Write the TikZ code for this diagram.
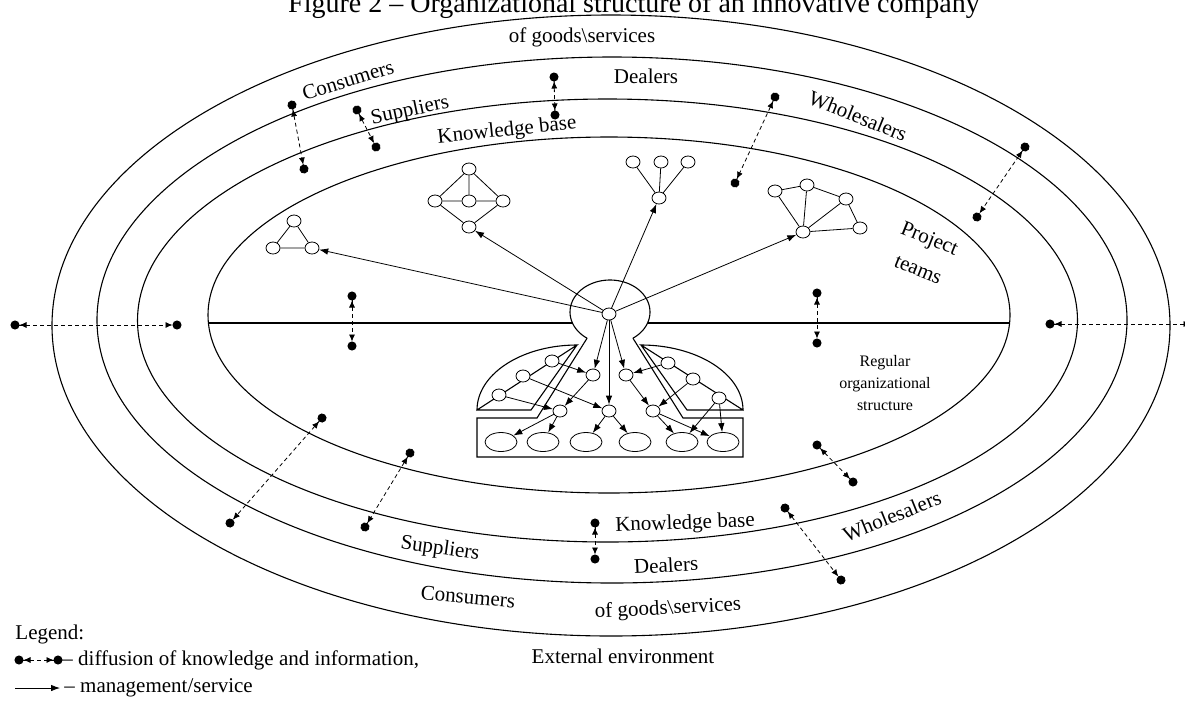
\documentclass[tikz,border=0pt]{standalone}
\usepackage{fontspec}
\setmainfont{Liberation Serif}
\usetikzlibrary{arrows.meta,shapes.geometric}
\begin{document}
\begin{tikzpicture}[x=1pt,y=-1pt,
  line width=0.9pt,
  ring/.style={line width=1.1pt},
  sn/.style={draw, ellipse, fill=white, minimum width=14pt, minimum height=12pt, inner sep=0pt, line width=0.8pt},
  bn/.style={draw, ellipse, fill=white, minimum width=32pt, minimum height=19pt, inner sep=0pt, line width=0.8pt},
  mg/.style={-{Latex[length=9pt,width=6.5pt]}, line width=0.8pt},
  ed/.style={line width=0.8pt},
  diff/.style={dash pattern=on 4pt off 3pt, line width=0.8pt,
    {Circle[length=9pt]Latex[length=7pt,width=6pt]}-{Latex[length=7pt,width=6pt]Circle[length=9pt]},
    shorten <=-4.5pt, shorten >=-4.5pt},
  lbl/.style={font=\fontsize{21}{23}\selectfont, inner sep=0pt},
]
\useasboundingbox (0,0) rectangle (1185,705);
\clip (0,0) rectangle (1185,705);

% title (cut at the top)
\node[font=\fontsize{28}{30}\selectfont, anchor=base, inner sep=0pt] (title) at (634,12) {Figure 2 -- Organizational structure of an innovative company};

% rings
\draw[ring] (611,325.5) ellipse [x radius=559pt, y radius=310.5pt];
\draw[ring] (612,320) ellipse [x radius=515pt, y radius=263pt];
\draw[ring] (607.5,320.5) ellipse [x radius=470pt, y radius=221.5pt];
\draw[ring] (609,315) ellipse [x radius=401pt, y radius=178pt];

% central core
\draw[ring] plot[domain=235:-55, samples=60] ({610+40*cos(\x)},{312-32*sin(\x)});
\coordinate (nl) at ({610+40*cos(235)},{312-32*sin(235)});
\coordinate (nr) at ({610+40*cos(-55)},{312-32*sin(-55)});
\draw[ring] (nl) -- (537,418) -- (477,418) -- (477,457) -- (743,457) -- (743,418) -- (683,418) -- (nr);
% caps
\draw[ring] (577,345) -- (531,410) -- (477,410) plot[domain=180:90, samples=40] ({577+100*cos(\x)},{410-65*sin(\x)}) -- cycle;
\draw[ring] (641,345) -- (687,410) -- (743,410) plot[domain=0:90, samples=40] ({641+102*cos(\x)},{410-65*sin(\x)}) -- cycle;

% horizontal divider
\coordinate (hl1) at (208.5,323);
\coordinate (hl2) at (572.5,323);
\coordinate (hr1) at (647.5,323);
\coordinate (hr2) at (1009.5,323);
\draw[ring] (hl1) -- (hl2);
\draw[ring] (hr1) -- (hr2);

% center node
\node[sn] (c0) at (609,314) {};

% project teams
\node[sn] (tA1) at (294,221) {};
\node[sn] (tA2) at (273,248) {};
\node[sn] (tA3) at (312,248) {};
\draw[ed] (tA1) -- (tA2) (tA1) -- (tA3) (tA2) -- (tA3);

\node[sn] (dT) at (469,169) {};
\node[sn] (dL) at (435,201) {};
\node[sn] (dM) at (469,201) {};
\node[sn] (dR) at (503,201) {};
\node[sn] (dB) at (469,227) {};
\draw[ed] (dT) -- (dL) (dT) -- (dM) (dT) -- (dR) (dL) -- (dM) (dM) -- (dR) (dL) -- (dB) (dR) -- (dB);

\node[sn] (f1) at (633,162) {};
\node[sn] (f2) at (661,162) {};
\node[sn] (f3) at (688,162) {};
\node[sn] (fB) at (659,198) {};
\draw[ed] (fB) -- (f1) (fB) -- (f2) (fB) -- (f3);

\node[sn] (r1) at (775,191) {};
\node[sn] (r2) at (807,185) {};
\node[sn] (r3) at (846,199) {};
\node[sn] (r4) at (803,232) {};
\node[sn] (r5) at (860,228) {};
\draw[ed] (r1) -- (r2) (r2) -- (r3) (r1) -- (r4) (r2) -- (r4) (r3) -- (r4) (r3) -- (r5) (r4) -- (r5);

\draw[mg] (c0) -- (tA3);
\draw[mg] (c0) -- (dB);
\draw[mg] (c0) -- (fB);
\draw[mg] (c0) -- (r4);

% regular structure
\node[sn] (m1) at (593,375) {};
\node[sn] (m2) at (626,375) {};
\node[sn] (m3) at (609,411) {};
\node[sn] (m4) at (560,411) {};
\node[sn] (m5) at (653,411) {};
\node[sn] (l1) at (552,361) {};
\node[sn] (l2) at (523,376) {};
\node[sn] (l3) at (499,395) {};
\node[sn] (q1) at (668,363) {};
\node[sn] (q2) at (693,379) {};
\node[sn] (q3) at (719,398) {};
\node[bn] (b1) at (501,442) {};
\node[bn] (b2) at (543,442) {};
\node[bn] (b3) at (586,442) {};
\node[bn] (b4) at (635,442) {};
\node[bn] (b5) at (682,442) {};
\node[bn] (b6) at (723,442) {};

\draw[mg] (c0) -- (m1);
\draw[mg] (c0) -- (m2);
\draw[mg] (c0) -- (m3);
\draw[mg] (l1) -- (m1);
\draw[mg] (l2) -- (m3);
\draw[mg] (l3) -- (m4);
\draw[mg] (m1) -- (m4);
\draw[mg] (m2) -- (m5);
\draw[mg] (q1) -- (m2);
\draw[mg] (q2) -- (m5);
\draw[mg] (m4) -- (b1);
\draw[mg] (m4) -- (b2);
\draw[mg] (m3) -- (b3);
\draw[mg] (m3) -- (b4);
\draw[mg] (m5) -- (b5);
\draw[mg] (m5) -- (b6);
\draw[mg] (q3) -- (b5);
\draw[mg] (q3) -- (b6);

% diffusion arrows
\coordinate (a1) at (292,105); \coordinate (a2) at (304,169);
\coordinate (b1a) at (357,110); \coordinate (b2a) at (376,147);
\coordinate (c1) at (554,77); \coordinate (c2) at (555,115);
\coordinate (d1) at (775,97); \coordinate (d2) at (735,183);
\coordinate (e1) at (1025,147); \coordinate (e2) at (977,217);
\coordinate (f1a) at (15,325); \coordinate (f2a) at (177,325);
\coordinate (g1) at (1050,324); \coordinate (g2) at (1195,324);
\coordinate (h1) at (352,296); \coordinate (h2) at (352,346);
\coordinate (i1) at (817,293); \coordinate (i2) at (817,343);
\coordinate (j1) at (322,418); \coordinate (j2) at (230,523);
\coordinate (k1) at (410,453); \coordinate (k2) at (365,527);
\coordinate (l1a) at (595,523); \coordinate (l2a) at (595,559);
\coordinate (m1a) at (817,445); \coordinate (m2a) at (853,482);
\coordinate (n1) at (785,508); \coordinate (n2) at (841,580);
\foreach \p/\q in {a1/a2,b1a/b2a,c1/c2,d1/d2,e1/e2,f1a/f2a,g1/g2,h1/h2,i1/i2,j1/j2,k1/k2,l1a/l2a,m1a/m2a,n1/n2}
  \draw[diff] (\p) -- (\q);

% labels
\node[lbl, anchor=base] (tgoods) at (582,42) {of goods\textbackslash services};
\node[lbl, rotate=17] (tcons) at (348,80) {Consumers};
\node[lbl, rotate=12] (tsupp) at (410,111) {Suppliers};
\node[lbl, rotate=6] (tkb) at (507,131) {Knowledge base};
\node[lbl, anchor=base] (tdeal) at (646,83) {Dealers};
\node[lbl, rotate=-22] (twhole) at (858,116) {Wholesalers};
\node[lbl, rotate=-22] (proj) at (929,240) {Project};
\node[lbl, rotate=-22] (teams) at (918,270) {teams};
\node[font=\fontsize{16}{22}\selectfont, align=center, inner sep=0pt] (reg) at (885,383) {Regular\\organizational\\structure};

\node[lbl, rotate=2] (bkb) at (685,524) {Knowledge base};
\node[lbl, rotate=3] (bdeal) at (666,565) {Dealers};
\node[lbl, rotate=3] (bgoods) at (668,609) {of goods\textbackslash services};
\node[lbl, rotate=-8] (bsupp) at (440,549) {Suppliers};
\node[lbl, rotate=-5] (bcons) at (468,597) {Consumers};
\node[lbl, rotate=22] (bwhole) at (892,516) {Wholesalers};
\node[lbl] (ext) at (623,656) {External environment};

% legend
\node[lbl, anchor=west] (leg) at (15,634) {Legend:};
\coordinate (lg1) at (19,660); \coordinate (lg2) at (58,660);
\draw[diff] (lg1) -- (lg2);
\node[lbl, anchor=west] (legt1) at (62,660) {-- diffusion of knowledge and information,};
\coordinate (lg3) at (15,688); \coordinate (lg4) at (60,688);
\draw[mg] (lg3) -- (lg4);
\node[lbl, anchor=west] (legt2) at (64,688) {-- management/service};
\end{tikzpicture}
\end{document}
